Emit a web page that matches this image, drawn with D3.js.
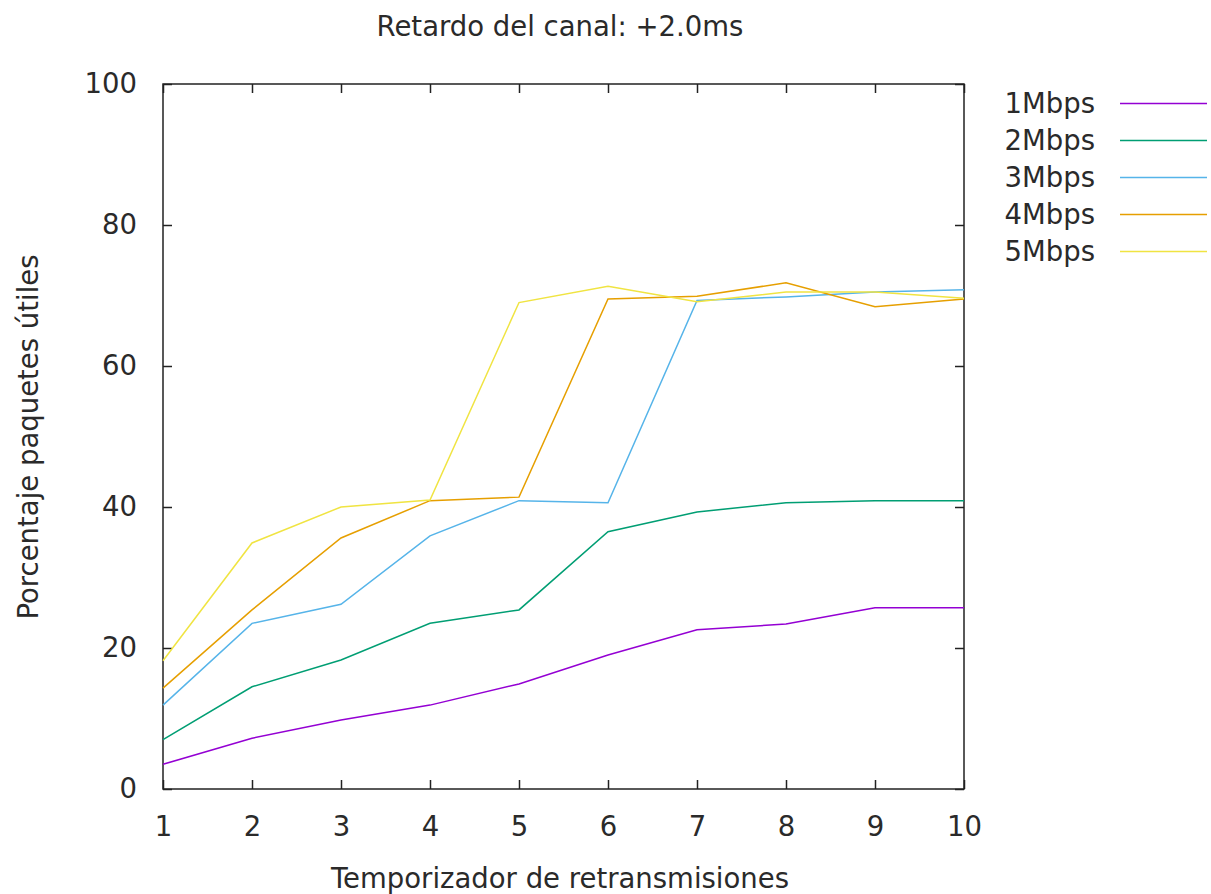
<!doctype html>
<html lang="es">
<head>
  <meta charset="utf-8">
  <title>Retardo del canal</title>
  <style>
    * { margin: 0; padding: 0; box-sizing: border-box; }
    body { background: #fff; }
    text { font-family: "DejaVu Sans", sans-serif; fill: #2a2a2a; }
  </style>
</head>
<body>
  <div class="chart"></div>
  <script src="https://cdn.jsdelivr.net/npm/d3@7/dist/d3.min.js"></script>
  <script>
    // ---------------------------------------------------------------
    //@@ data
    const timers = [1, 2, 3, 4, 5, 6, 7, 8, 9, 10];
    const seriesNames = ['1Mbps', '2Mbps', '3Mbps', '4Mbps', '5Mbps'];
    const s1 = [3.5, 7.2, 9.8, 11.9, 14.9, 19.0, 22.6, 23.4, 25.7, 25.7];
    const s2 = [7.0, 14.5, 18.3, 23.5, 25.4, 36.5, 39.3, 40.6, 40.9, 40.9];
    const s3 = [11.9, 23.5, 26.2, 35.9, 40.9, 40.6, 69.3, 69.8, 70.5, 70.8];
    const s4 = [14.3, 25.4, 35.6, 40.9, 41.4, 69.5, 69.9, 71.8, 68.4, 69.5];
    const s5 = [18.2, 34.9, 40.0, 41.0, 69.0, 71.3, 69.1, 70.5, 70.5, 69.6];
    const yTicks = [0, 20, 40, 60, 80, 100];
    const colors = ['#9400d3', '#009e73', '#56b4e9', '#e69f00', '#f0e442'];

    const series = [s1, s2, s3, s4, s5].map((vals, i) => ({
      name: seriesNames[i],
      color: colors[i],
      values: vals.map((v, j) => ({x: timers[j], y: v}))
    }));

    // ---------------------------------------------------------------
    //@@ svg configuration
    const svgDim = {w: 1211, h: 894};
    const plot = {l: 163, r: 964, t: 84, b: 789};
    const fontSize = '27.5px';

    const svg = d3.select('.chart').append('svg')
      .attr('width', svgDim.w)
      .attr('height', svgDim.h);

    //@@ scales
    const scaleX = d3.scaleLinear().domain([1, 10]).range([plot.l, plot.r]);
    const scaleY = d3.scaleLinear().domain([0, 100]).range([plot.b, plot.t]);

    //@@ ticks (gnuplot style: inward, mirrored)
    const tickLen = 9;
    const axisBottom = d3.axisBottom(scaleX).tickValues(timers).tickSize(-tickLen).tickPadding(27).tickFormat(d3.format('d'));
    const axisTop = d3.axisTop(scaleX).tickValues(timers).tickSize(-tickLen).tickFormat('');
    const axisLeft = d3.axisLeft(scaleY).tickValues(yTicks).tickSize(-tickLen).tickPadding(26).tickFormat(d3.format('d'));
    const axisRight = d3.axisRight(scaleY).tickValues(yTicks).tickSize(-tickLen).tickFormat('');

    const axes = [
      [axisBottom, `translate(0,${plot.b})`],
      [axisTop, `translate(0,${plot.t})`],
      [axisLeft, `translate(${plot.l},0)`],
      [axisRight, `translate(${plot.r},0)`]
    ];
    axes.forEach(([ax, tr]) => {
      const g = svg.append('g').attr('transform', tr).call(ax);
      g.select('.domain').remove();
      g.selectAll('.tick line').attr('stroke', '#222').attr('stroke-width', 1.5);
      g.selectAll('.tick text').style('font-size', fontSize).attr('fill', '#2a2a2a');
    });

    //@@ frame
    svg.append('rect')
      .attr('x', plot.l).attr('y', plot.t)
      .attr('width', plot.r - plot.l).attr('height', plot.b - plot.t)
      .attr('fill', 'none').attr('stroke', '#222').attr('stroke-width', 1.5);

    //@@ lines
    const line = d3.line().x(d => scaleX(d.x)).y(d => scaleY(d.y));
    svg.append('g').selectAll('path')
      .data(series)
      .enter()
      .append('path')
      .attr('d', d => line(d.values))
      .attr('fill', 'none')
      .attr('stroke', d => d.color)
      .attr('stroke-width', 1.5);

    //@@ legend
    const legend = svg.append('g');
    const rows = legend.selectAll('g').data(series).enter().append('g')
      .attr('transform', (d, i) => `translate(0,${103.5 + i * 37})`);
    rows.append('text')
      .attr('x', 1095).attr('dy', '0.35em')
      .attr('text-anchor', 'end')
      .style('font-size', fontSize)
      .text(d => d.name);
    rows.append('line')
      .attr('x1', 1120).attr('x2', 1207)
      .attr('stroke', d => d.color).attr('stroke-width', 1.5);

    //@@ titles
    svg.append('text')
      .attr('x', 560).attr('y', 26).attr('dy', '0.35em')
      .attr('text-anchor', 'middle').style('font-size', fontSize)
      .text('Retardo del canal: +2.0ms');
    svg.append('text')
      .attr('x', 560).attr('y', 878).attr('dy', '0.35em')
      .attr('text-anchor', 'middle').style('font-size', fontSize)
      .text('Temporizador de retransmisiones');
    svg.append('text')
      .attr('transform', 'translate(28,437) rotate(-90)').attr('dy', '0.35em')
      .attr('text-anchor', 'middle').style('font-size', fontSize)
      .text('Porcentaje paquetes útiles');
  </script>
</body>
</html>
